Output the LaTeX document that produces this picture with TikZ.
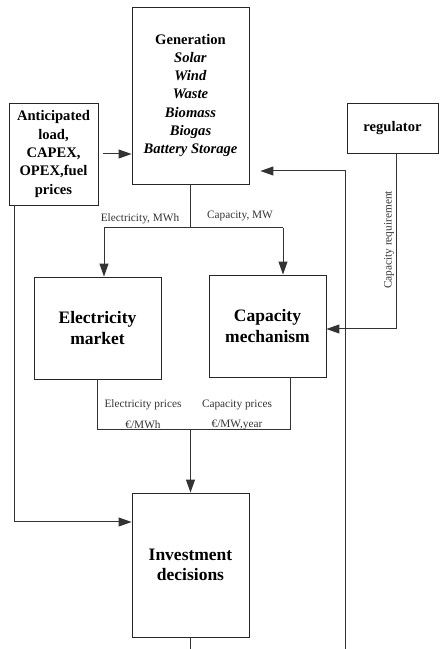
\documentclass[tikz,border=0pt]{standalone}
\usepackage{fontspec}
\setmainfont{Liberation Serif}
\usetikzlibrary{arrows.meta,calc}
\begin{document}
\begin{tikzpicture}[x=1pt,y=1pt,
  box/.style={draw=black!85,line width=0.9pt,inner sep=0pt,align=center},
  midfont/.style={font=\fontsize{14.6}{18.3}\selectfont\bfseries},
  bigfont/.style={font=\fontsize{17.5}{20.5}\selectfont\bfseries},
  wire/.style={draw=black!80,line width=1pt},
  arr/.style={wire,-{Triangle[length=13pt,width=9pt]}},
  lbl/.style={font=\fontsize{11.3}{13}\selectfont,text=black!80,inner sep=0pt}]
\useasboundingbox (0,0) rectangle (440,649);

% boxes (y measured upward from the bottom edge)
\node[box,midfont,minimum width=117,minimum height=177] (gen) at (190.5,553.5)
  {Generation\\ \textit{Solar}\\ \textit{Wind}\\ \textit{Waste}\\ \textit{Biomass}\\ \textit{Biogas}\\ \textit{Battery Storage}};
\node[box,midfont,minimum width=89,minimum height=102] (ant) at (53.5,495)
  {Anticipated\\ load,\\ CAPEX,\\ OPEX,fuel\\ prices};
\node[box,midfont,minimum width=91,minimum height=50] (reg) at (392.5,521) {regulator};
\node[box,bigfont,minimum width=127,minimum height=102] (em) at (97.5,321) {Electricity\\ market};
\node[box,bigfont,minimum width=117,minimum height=102] (cm) at (267.5,323) {Capacity\\ mechanism};
\node[box,bigfont,minimum width=117,minimum height=144] (inv) at (190.5,84) {Investment\\ decisions};

% helper points
\coordinate (j) at (190.5,421);
\coordinate (ja) at (104,421);
\coordinate (jb) at (283,421);
\coordinate (pl) at (97.5,219);
\coordinate (pr) at (290,219);
\coordinate (pm) at (190.5,219);
\coordinate (lt) at (14,127);
\coordinate (rg) at (396,320);
\coordinate (fb0) at (345,0);
\coordinate (fb1) at (345,478);
\coordinate (bot) at (190.5,0);

% connectors
\draw[arr,shorten <=5pt] (ant.east) -- (ant.east -| gen.west);
\draw[wire] (gen.south) -- (j);
\draw[wire] (ja) -- (jb);
\draw[arr] (ja) -- (ja |- em.north);
\draw[arr] (jb) -- (jb |- cm.north);
\draw[wire] (em.south) -- (pl) -- (pr) -- (pr |- cm.south);
\draw[arr] (pm) -- (inv.north);
\draw[wire] (inv.south) -- (bot);
\draw[arr] (ant.south -| lt) -- (lt) -- (lt -| inv.west);
\draw[arr] (reg.south -| rg) -- (rg) -- (rg -| cm.east);
\draw[arr,shorten >=11pt] (fb0) -- (fb1) -- (fb1 -| gen.east);

% labels
\node[lbl] (l1) at (140,430) {Electricity, MWh};
\node[lbl] (l2) at (240,433) {Capacity, MW};
\node[lbl] (l3) at (143,244) {Electricity prices};
\node[lbl] (l4) at (143,224) {€/MWh};
\node[lbl] (l5) at (237,244) {Capacity prices};
\node[lbl] (l6) at (237,224) {€/MW,year};
\node[lbl,rotate=90] (l7) at (389,409) {Capacity requirement};
\end{tikzpicture}
\end{document}
